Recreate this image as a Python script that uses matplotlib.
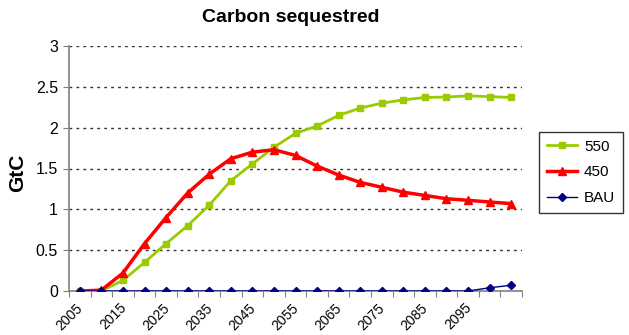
import matplotlib
matplotlib.use("Agg")
import matplotlib.pyplot as plt
from matplotlib.transforms import ScaledTranslation
import numpy as np

plt.rcParams['font.family'] = ['Liberation Sans', 'DejaVu Sans']

years = [2005, 2010, 2015, 2020, 2025, 2030, 2035, 2040, 2045, 2050, 2055,
         2060, 2065, 2070, 2075, 2080, 2085, 2090, 2095, 2100, 2105]
s550 = [0.0, 0.0, 0.13, 0.35, 0.58, 0.80, 1.05, 1.35, 1.555, 1.76, 1.93,
        2.02, 2.15, 2.24, 2.30, 2.34, 2.37, 2.375, 2.39, 2.38, 2.37]
s450 = [0.0, 0.01, 0.22, 0.58, 0.90, 1.20, 1.43, 1.62, 1.70, 1.73, 1.66,
        1.53, 1.42, 1.33, 1.27, 1.21, 1.17, 1.13, 1.11, 1.09, 1.07]
bau = [0.0, 0.0, 0.0, 0.0, 0.0, 0.0, 0.0, 0.0, 0.0, 0.0, 0.0,
       0.0, 0.0, 0.0, 0.0, 0.0, 0.0, 0.0, 0.0, 0.04, 0.07]
y_ticks = [0, 0.5, 1, 1.5, 2, 2.5, 3]
y_tick_labels = ["0", "0.5", "1", "1.5", "2", "2.5", "3"]

W, H = 629, 335
fig = plt.figure(figsize=(W / 100, H / 100), dpi=100)
ax = fig.add_axes([69 / W, 1 - 291 / H, (522 - 69) / W, (291 - 46) / H])

x = np.arange(len(years))
l550, = ax.plot(x, s550, color='#99CC00', lw=2, marker='s', ms=5,
                label='550', zorder=3)
l450, = ax.plot(x, s450, color='#FF0000', lw=2.5, marker='^', ms=6,
                label='450', zorder=4)
lbau, = ax.plot(x, bau, color='#000080', lw=1, marker='D', ms=4,
                label='BAU', zorder=5)

ax.set_xlim(-0.5, len(years) - 0.5)
ax.set_ylim(0, 3)

# category-style axis: tick marks between points, labels on every other year
ax.set_xticks(np.arange(len(years) + 1) - 0.5, minor=False)
ax.set_xticklabels([])
ax.set_xticks(x[::2][:-1], minor=True)
ax.set_xticklabels([str(years[i]) for i in x[::2][:-1]], minor=True,
                   rotation=45, ha='right', va='top', rotation_mode='anchor',
                   fontsize=10)
ax.tick_params(axis='x', which='minor', length=0, pad=7)
ax.tick_params(axis='x', which='major', length=4, color='#808080', direction='out')
shift = ScaledTranslation(-4 / 100, 0, fig.dpi_scale_trans)
for lab in ax.get_xticklabels(minor=True):
    lab.set_transform(lab.get_transform() + shift)

ax.set_yticks(y_ticks)
ax.set_yticklabels(y_tick_labels, fontsize=11.5)
ax.tick_params(axis='y', length=4, color='#808080', direction='out', pad=4)

ax.yaxis.grid(True, linestyle=(0, (2, 3)), color='#333333', lw=1)
ax.set_axisbelow(True)
for s in ['top', 'right']:
    ax.spines[s].set_visible(False)
for s in ['left', 'bottom']:
    ax.spines[s].set_color('#808080')
    ax.spines[s].set_linewidth(1.2)
ax.spines['bottom'].set_zorder(2)

fig.text(18 / W, 1 - 173 / H, 'GtC', fontsize=15, fontweight='bold',
         rotation=90, ha='center', va='center')
fig.text(291 / W, 1 - 18 / H, 'Carbon sequestred', fontsize=14,
         fontweight='bold', ha='center', va='center')

leg = fig.legend(handles=[l550, l450, lbau], loc='upper left',
                 bbox_to_anchor=(539 / W, 1 - 132 / H), borderaxespad=0,
                 fontsize=11, frameon=True, fancybox=False, edgecolor='black',
                 handlelength=2.0, borderpad=0.5, labelspacing=0.77,
                 handletextpad=0.45)
leg.get_frame().set_linewidth(1)

fig.savefig('out.png', dpi=100)
